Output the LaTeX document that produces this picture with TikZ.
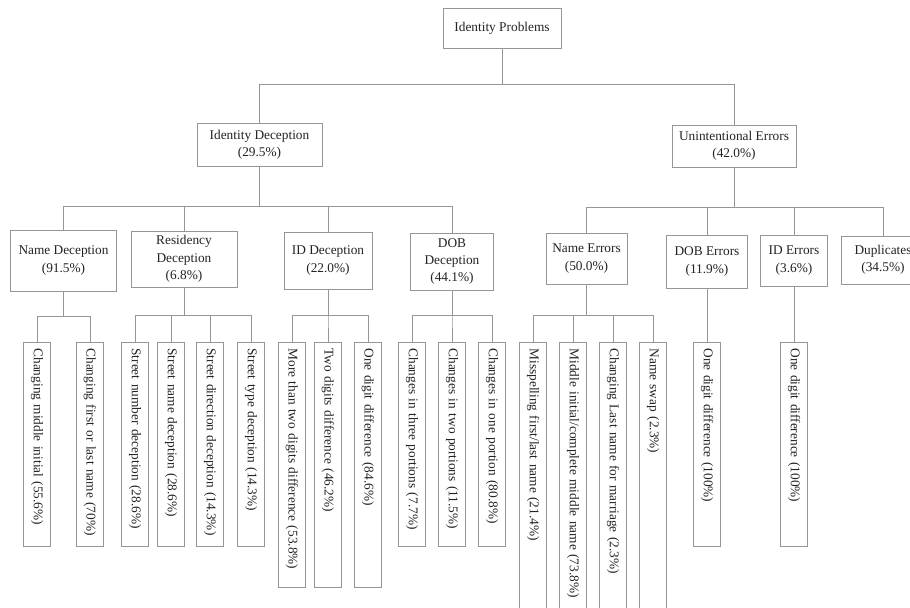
\documentclass[tikz,border=0pt]{standalone}
\usepackage{fontspec}
\setmainfont{Liberation Serif}
\definecolor{frame}{RGB}{150, 150, 150}
\definecolor{ink}{RGB}{35, 35, 35}

\begin{document}
\begin{tikzpicture}[x=0.75pt, y=-0.75pt, every node/.style={font=\fontsize{10}{13}\selectfont, text=ink},
    cat/.style={draw=frame, line width=0.75pt, align=center, inner sep=2pt},
    leaf/.style={draw=frame, line width=0.75pt, rotate=-90, anchor=west, align=left, inner xsep=4.5pt, minimum height=20.25pt, text width=#1},
    link/.style={draw=frame, line width=0.75pt}]
            \useasboundingbox[fill=white] (0,0) rectangle (910,607);
            % top and second level
            \node[cat, minimum width=88.5pt, minimum height=30pt] (root) at (502,28) {Identity Problems};
            \node[cat, minimum width=93.75pt, minimum height=32.25pt] (idd) at (259.5,144.5) {Identity Deception\\(29.5\%)};
            \node[cat, minimum width=93pt, minimum height=31.5pt] (ue) at (734,146) {Unintentional Errors\\(42.0\%)};
            % third level
            \node[cat, minimum width=79.5pt, minimum height=45.75pt] (nd) at (63.5,260.5) {Name Deception\\(91.5\%)};
            \node[cat, minimum width=79.5pt, minimum height=42pt] (rd) at (184,259) {Residency\\Deception\\(6.8\%)};
            \node[cat, minimum width=66pt, minimum height=42.75pt] (idc) at (328,260.5) {ID Deception\\(22.0\%)};
            \node[cat, minimum width=62.25pt, minimum height=42.75pt] (dobd) at (452,261.5) {DOB\\Deception\\(44.1\%)};
            \node[cat, minimum width=60.75pt, minimum height=38.25pt] (ne) at (586.5,258.5) {Name Errors\\(50.0\%)};
            \node[cat, minimum width=60.75pt, minimum height=39.75pt] (dobe) at (707,261.5) {DOB Errors\\(11.9\%)};
            \node[cat, minimum width=50.25pt, minimum height=38.25pt] (ide) at (794,260.5) {ID Errors\\(3.6\%)};
            \node[cat, minimum width=63pt, minimum height=36pt] (dup) at (883,260) {Duplicates\\(34.5\%)};
            % leaves
            \node[leaf=144pt] (n1) at (37,342) {Changing middle initial (55.6\%)};
            \node[leaf=144pt] (n2) at (90,342) {Changing first or last name (70\%)};
            \node[leaf=144pt] (r1) at (135,342) {Street number deception (28.6\%)};
            \node[leaf=144pt] (r2) at (171,342) {Street name deception (28.6\%)};
            \node[leaf=144pt] (r3) at (210,342) {Street direction deception (14.3\%)};
            \node[leaf=144pt] (r4) at (251,342) {Street type deception (14.3\%)};
            \node[leaf=174.75pt] (i1) at (292,342) {More than two digits difference (53.8\%)};
            \node[leaf=174.75pt] (i2) at (328,342) {Two digits difference (46.2\%)};
            \node[leaf=174.75pt] (i3) at (368,342) {One digit difference (84.6\%)};
            \node[leaf=144pt] (d1) at (412,342) {Changes in three portions (7.7\%)};
            \node[leaf=144pt] (d2) at (452,342) {Changes in two portions (11.5\%)};
            \node[leaf=144pt] (d3) at (492,342) {Changes in one portion (80.8\%)};
            \node[leaf=195.75pt] (e1) at (533,342) {Misspelling first/last name (21.4\%)};
            \node[leaf=195.75pt] (e2) at (573,342) {Middle initial/complete middle name (73.8\%)};
            \node[leaf=195.75pt] (e3) at (613,342) {Changing Last name for marriage (2.3\%)};
            \node[leaf=195.75pt] (e4) at (653,342) {Name swap (2.3\%)};
            \node[leaf=144pt] (o1) at (707,342) {One digit difference (100\%)};
            \node[leaf=144pt] (o2) at (794,342) {One digit difference (100\%)};
            % connectors
            \foreach \c in {idd,ue}
                \draw[link] (root.south) -- (root.south |- 0,84) -| (\c.north);
            \foreach \c in {nd,rd,idc,dobd}
                \draw[link] (idd.south) -- (idd.south |- 0,206) -| (\c.north);
            \foreach \c in {ne,dobe,ide,dup}
                \draw[link] (ue.south) -- (ue.south |- 0,207) -| (\c.north);
            \foreach \c in {n1,n2}
                \draw[link] (nd.south) -- (nd.south |- 0,316) -| (\c.west);
            \foreach \c in {r1,r2,r3,r4}
                \draw[link] (rd.south) -- (rd.south |- 0,315) -| (\c.west);
            \foreach \c in {i1,i2,i3}
                \draw[link] (idc.south) -- (idc.south |- 0,315) -| (\c.west);
            \foreach \c in {d1,d2,d3}
                \draw[link] (dobd.south) -- (dobd.south |- 0,315) -| (\c.west);
            \foreach \c in {e1,e2,e3,e4}
                \draw[link] (ne.south) -- (ne.south |- 0,315) -| (\c.west);
            \draw[link] (dobe.south) -- (o1.west);
            \draw[link] (ide.south) -- (o2.west);
        \end{tikzpicture}
\end{document}
